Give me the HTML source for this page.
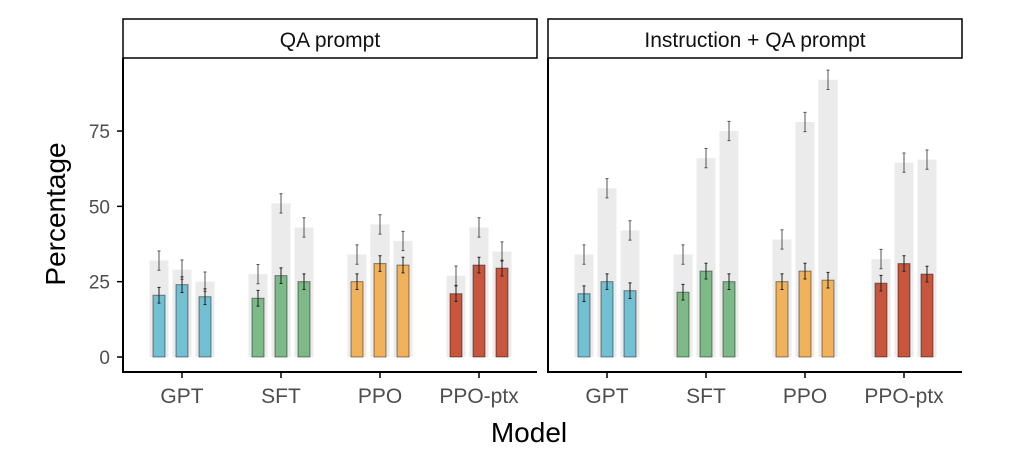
<!DOCTYPE html>
<html><head><meta charset="utf-8"><style>
html,body{margin:0;padding:0;background:#fff}
svg{display:block;font-family:"Liberation Sans",sans-serif}
</style></head><body>
<svg id="chart" width="1025" height="459"></svg>
<script>
const categories=["GPT","SFT","PPO","PPO-ptx"];
const panels=["QA prompt","Instruction + QA prompt"];
const yTicks=[0,25,50,75];
const grayLeft=[[32,29,25],[27.5,51,43],[34,44,38.5],[27,43,35]];
const colLeft=[[20.5,24,20],[19.5,27,25],[25,31,30.5],[21,30.5,29.5]];
const grayRight=[[34,56,42],[34,66,75],[39,78,92],[32.5,64.5,65.5]];
const colRight=[[21,25,22],[21.5,28.5,25],[25,28.5,25.5],[24.5,31,27.5]];
const grayErr=3.2, colErr=2.6;
const colors=["#73c0d2","#7dba88","#f0b25a","#c8553d"];
const NS="http://www.w3.org/2000/svg";
const svg=document.getElementById("chart");
function el(t,a,p){const e=document.createElementNS(NS,t);for(const k in a)e.setAttribute(k,a[k]);(p||svg).appendChild(e);return e;}
const y=v=>357-v*3.013;
const panelX=[123,548], panelW=[416,416];
const catX=(p,i)=>panelX[p]+59+i*99;
const pdata=[[grayLeft,colLeft],[grayRight,colRight]];
for(let p=0;p<2;p++){
  const g=el("g",{});
  
  
  const s=el("rect",{x:panelX[p],y:19,width:panelW[p]-2,height:39,fill:"#fff",stroke:"#000","stroke-width":1.5},g);
  
  
  const st=el("text",{x:panelX[p]+panelW[p]/2-1,y:47,"text-anchor":"middle","font-size":21,fill:"#111"},g);
  st.textContent=panels[p];
  
  
  const [gr,co]=pdata[p];
  categories.forEach((c,i)=>{
    for(let j=0;j<3;j++){
      const cx=catX(p,i)+(j-1)*23;
      const gb=el("rect",{x:cx-9.5,y:y(gr[i][j]),width:19,height:357-y(gr[i][j]),fill:"#ebebeb"},g);
      
      
      const cb=el("rect",{x:cx-6,y:y(co[i][j]),width:12,height:357-y(co[i][j]),fill:colors[i],stroke:"rgba(0,0,0,0.45)","stroke-width":1},g);
      
      
      [[gr[i][j],grayErr,"#555"],[co[i][j],colErr,"#222"]].forEach(([v,e,clr])=>{
        const eg=el("path",{d:`M${cx},${y(v+e)}V${y(v-e)}M${cx-1.5},${y(v+e)}h3M${cx-1.5},${y(v-e)}h3`,stroke:clr,"stroke-width":1,fill:"none"},g);
        
        
      });
    }
    el("line",{x1:catX(p,i),x2:catX(p,i),y1:372,y2:378,stroke:"#000","stroke-width":1.5},g);
    const t=el("text",{x:catX(p,i),y:403,"text-anchor":"middle","font-size":21,fill:"#4d4d4d"},g);
    t.textContent=c;
    
    
  });
  el("path",{d:`M${panelX[p]},58V372H${panelX[p]+panelW[p]-2}`,stroke:"#000","stroke-width":2,fill:"none"},g);
}
yTicks.forEach(v=>{
  el("line",{x1:117,x2:123,y1:y(v),y2:y(v),stroke:"#000","stroke-width":1.5});
  const t=el("text",{x:110,y:y(v)+7,"text-anchor":"end","font-size":19,fill:"#4d4d4d"});
  t.textContent=v;
  
  
});
const xt=el("text",{x:529,y:442,"text-anchor":"middle","font-size":28,fill:"#000"});
xt.textContent="Model";


const yt=el("text",{x:0,y:0,"text-anchor":"middle","font-size":28,fill:"#000",transform:"translate(65,214) rotate(-90)"});
yt.textContent="Percentage";


</script>
</body></html>
